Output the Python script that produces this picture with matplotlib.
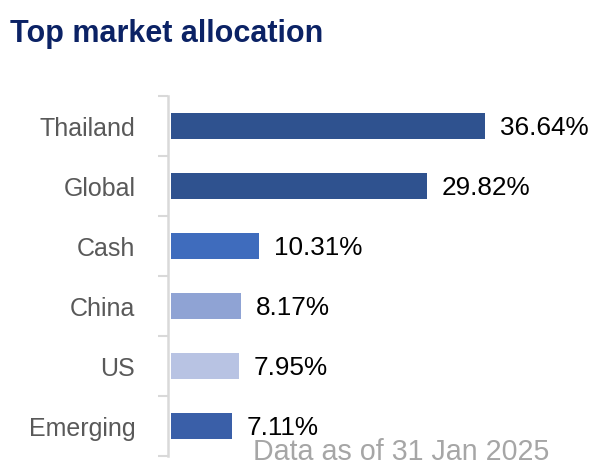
import matplotlib
matplotlib.use("Agg")
import matplotlib.pyplot as plt

categories = ["Thailand", "Global", "Cash", "China", "US", "Emerging"]
values = [36.64, 29.82, 10.31, 8.17, 7.95, 7.11]
colors = ["#2f528f", "#2f528f", "#3f6cbd", "#8fa3d4", "#b8c3e3", "#3a5fa8"]
title = "Top market allocation"
footnote = "Data as of 31 Jan 2025"

plt.rcParams['font.family'] = ['Liberation Sans', 'DejaVu Sans']

W, H = 589, 469
fig = plt.figure(figsize=(W / 100, H / 100), dpi=100)

# axes in pixel coords: left 168, right 589, top 96, bottom 456
ax = fig.add_axes([168 / W, (H - 456) / H, (589 - 168) / W, (456 - 96) / H])
ypos = list(range(len(categories)))
ax.barh(ypos, values, height=0.42, left=0.35, color=colors)
ax.set_xlim(0, 49.1)
ax.set_ylim(len(categories) - 0.5, -0.5)

for y, v in zip(ypos, values):
    ax.text(v + 0.35 + 1.7, y + 0.03, f"{v:.2f}%", va="center", ha="left",
            fontsize=18.8, color="#000000")

ax.set_yticks([i - 0.5 for i in range(len(categories) + 1)])
ax.set_yticklabels([])
ax.set_yticks(ypos, minor=True)
ax.set_yticklabels(categories, minor=True)
ax.tick_params(axis="y", which="major", length=7.5, width=1.5, color="#d9d9d9")
ax.tick_params(axis="y", which="minor", length=0, pad=23.5, labelsize=18,
               labelcolor="#595959")
ax.set_xticks([])
for s in ["top", "right", "bottom"]:
    ax.spines[s].set_visible(False)
ax.spines["left"].set_color("#d9d9d9")
ax.spines["left"].set_linewidth(1.8)

fig.text(10 / W, 1 - 34 / H, title, fontsize=22, fontweight="bold",
         color="#0b2265", va="center", ha="left")
fig.text(253 / W, 3 / H, footnote, fontsize=20.6, color="#a6a6a6",
         va="bottom", ha="left")

fig.savefig("out.png", dpi=100)
